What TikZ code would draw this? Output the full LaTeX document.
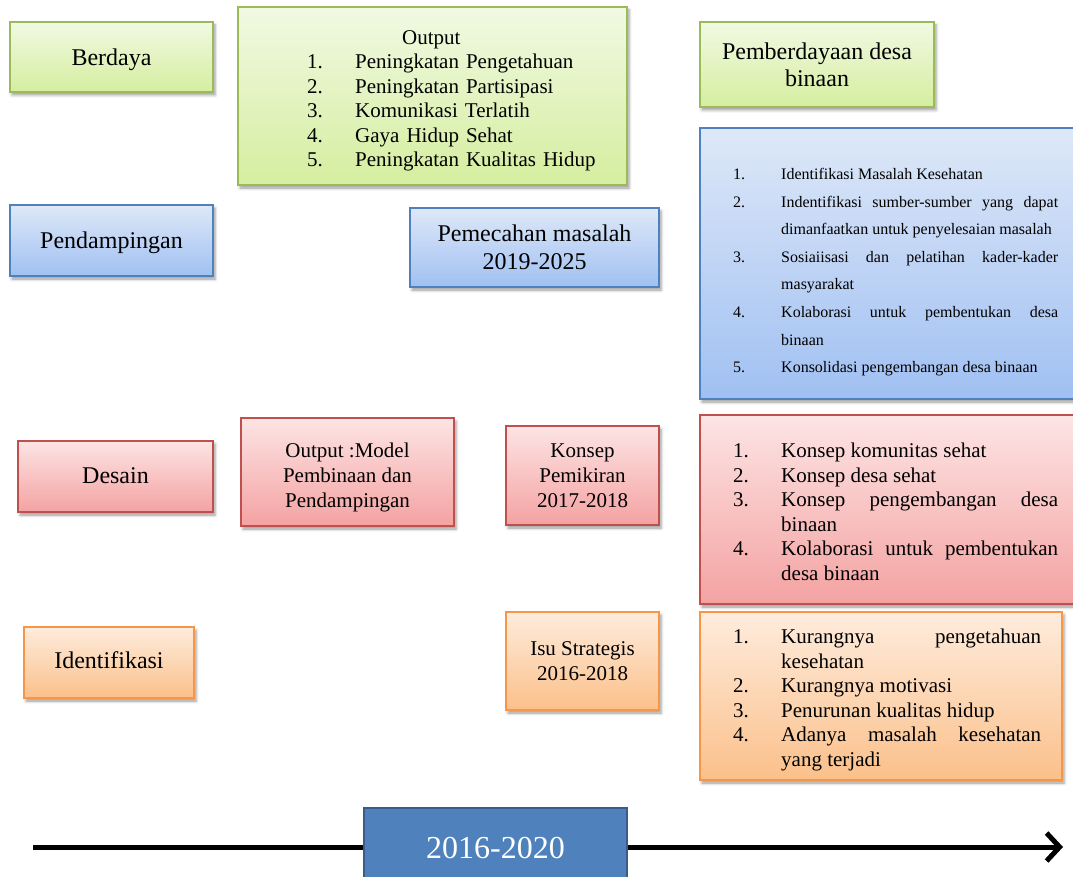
\documentclass[tikz,border=0pt]{standalone}
\usepackage{fontspec}
\setmainfont{Liberation Serif}
\usetikzlibrary{shadows.blur,arrows.meta}
\definecolor{gDr}{HTML}{9BBB59}\definecolor{gTop}{HTML}{F1F9E3}\definecolor{gBot}{HTML}{D5EE9F}
\definecolor{bDr}{HTML}{4F81BD}\definecolor{bTop}{HTML}{DEE8F8}\definecolor{bBot}{HTML}{A0C0F2}
\definecolor{rDr}{HTML}{C0504D}\definecolor{rTop}{HTML}{FDE4E4}\definecolor{rBot}{HTML}{F4A2A2}
\definecolor{oDr}{HTML}{F79646}\definecolor{oTop}{HTML}{FEECDD}\definecolor{oBot}{HTML}{FBC08A}
\definecolor{tlFill}{HTML}{4F81BD}\definecolor{tlDr}{HTML}{385D8A}
\newcommand{\litem}[2]{\par\hangindent=48pt\hangafter=1\noindent\makebox[48pt][l]{#1}#2}
\newcommand{\lowered}[2]{\raisebox{-#1}[\height][\depth]{\begin{tabular}{@{}c@{}}#2\end{tabular}}}
\tikzset{
  box/.style={draw, line width=1.6pt, rectangle, inner sep=0pt, align=center,
    blur shadow={shadow xshift=2pt,shadow yshift=-3pt,shadow blur radius=3pt,shadow opacity=40}},
  gbox/.style={box, draw=gDr, top color=gTop, bottom color=gBot},
  bbox/.style={box, draw=bDr, top color=bTop, bottom color=bBot},
  rbox/.style={box, draw=rDr, top color=rTop, bottom color=rBot},
  obox/.style={box, draw=oDr, top color=oTop, bottom color=oBot},
  big/.style={font=\fontsize{24pt}{27pt}\selectfont},
  mid/.style={font=\fontsize{21pt}{25pt}\selectfont},
  txt/.style={inner sep=0pt, anchor=west, align=justify},
}
\begin{document}
\begin{tikzpicture}[x=1pt,y=-1pt]
\useasboundingbox (0,0) rectangle (1073,877);
% green row
\node[gbox, big, minimum width=203pt, minimum height=70pt] (berdaya) at (111.5,57) {\lowered{3pt}{Berdaya}};
\node[gbox, minimum width=389pt, minimum height=178pt] (outg) at (432.5,96) {};
\node[txt, align=left, text width=300pt, font=\fontsize{21pt}{24.5pt}\selectfont] (outgt) at (307,101)
 {\hspace*{95pt}Output\litem{1.}{Peningkatan Pengetahuan}\litem{2.}{Peningkatan Partisipasi}\litem{3.}{Komunikasi Terlatih}\litem{4.}{Gaya Hidup Sehat}\litem{5.}{Peningkatan Kualitas Hidup}\par};
\node[gbox, big, minimum width=234pt, minimum height=85pt] (pemb) at (817,64.5) {Pemberdayaan desa\\binaan};
% blue row
\node[bbox, big, minimum width=203pt, minimum height=71pt] (pend) at (111.5,240.5) {\lowered{3pt}{Pendampingan}};
\node[bbox, font=\fontsize{24pt}{28pt}\selectfont, minimum width=249pt, minimum height=79pt] (pemec) at (534.5,247.5) {Pemecahan masalah\\2019-2025};
\node[bbox, minimum width=390pt, minimum height=271pt] (bluel) at (895,263.5) {};
\node[txt, text width=325pt, font=\fontsize{16pt}{27.6pt}\selectfont] (bluet) at (733,264)
 {\hyphenpenalty=10000\exhyphenpenalty=10000
 \litem{1.}{Identifikasi Masalah Kesehatan}\litem{2.}{Indentifikasi sumber-sumber yang dapat dimanfaatkan untuk penyelesaian masalah}\litem{3.}{Sosiaiisasi dan pelatihan kader-kader masyarakat}\litem{4.}{Kolaborasi untuk pembentukan desa\linebreak binaan}\litem{5.}{Konsolidasi pengembangan desa binaan}\par};
% red row
\node[rbox, big, minimum width=195pt, minimum height=71pt] (desain) at (115.5,476.5) {\lowered{2pt}{Desain}};
\node[rbox, mid, minimum width=213pt, minimum height=108pt] (outm) at (347.5,472) {\lowered{5pt}{Output :Model\\Pembinaan dan\\Pendampingan}};
\node[rbox, mid, minimum width=153pt, minimum height=99pt] (konsep) at (582.5,475.5) {\lowered{2pt}{Konsep\\Pemikiran\\2017-2018}};
\node[rbox, minimum width=390pt, minimum height=189pt] (redl) at (895,509.5) {};
\node[txt, text width=325pt, font=\fontsize{21pt}{24.5pt}\selectfont] (redt) at (733,507)
 {\hyphenpenalty=10000\exhyphenpenalty=10000
 \litem{1.}{Konsep komunitas sehat}\litem{2.}{Konsep desa sehat}\litem{3.}{Konsep pengembangan desa binaan}\litem{4.}{Kolaborasi untuk pembentukan desa binaan}\par};
% orange row
\node[obox, big, minimum width=170pt, minimum height=71pt] (ident) at (109,662.5) {\lowered{1pt}{Identifikasi}};
\node[obox, mid, minimum width=153pt, minimum height=98pt] (isu) at (582.5,661) {\lowered{2pt}{Isu Strategis\\2016-2018}};
\node[obox, minimum width=362pt, minimum height=168pt] (orl) at (881,696) {};
\node[txt, text width=308pt, font=\fontsize{21pt}{24.5pt}\selectfont] (ort) at (733,695)
 {\hyphenpenalty=10000\exhyphenpenalty=10000
 \litem{1.}{Kurangnya pengetahuan kesehatan}\litem{2.}{Kurangnya motivasi}\litem{3.}{Penurunan kualitas hidup}\litem{4.}{Adanya masalah kesehatan yang terjadi}\par};
% timeline
\node[draw=tlDr, line width=2.5pt, fill=tlFill, text=white, font=\fontsize{32pt}{36pt}\selectfont,
  minimum width=263pt, minimum height=80pt, inner sep=0pt] (tl) at (495.5,848) {2016-2020};
\coordinate (tstart) at (33,847);
\coordinate (tend) at (1063,847);
\draw[line width=5pt] (tstart) -- (tl.west |- tstart);
\draw[line width=5pt, -{Straight Barb[length=13pt,width=28pt]}] (tl.east |- tend) -- (tend);
\end{tikzpicture}
\end{document}
